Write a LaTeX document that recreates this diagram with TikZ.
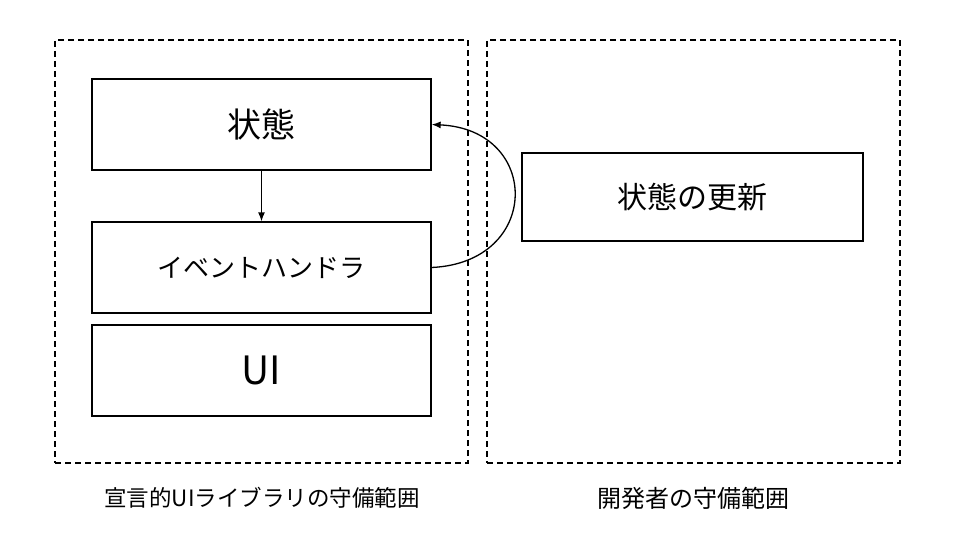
\documentclass[tikz,border=0pt]{standalone}
\usepackage{fontspec}
\setmainfont{Noto Sans CJK JP}
\usetikzlibrary{arrows.meta}

\tikzset{
	box/.style={draw, line width=1.3pt, minimum width=339pt, minimum height=91pt, inner sep=0pt},
	area/.style={draw, line width=1.2pt, dash pattern=on 6pt off 4pt, minimum width=413pt, minimum height=423pt, inner sep=0pt},
	flow/.style={line width=1.3pt, -{Latex[length=9pt,width=7pt]}}
}

\begin{document}
\begin{tikzpicture}[x=1pt, y=-1pt]
		\useasboundingbox (0,0) rectangle (960,540);
		\node[area](lib) at (261.5,251.5){};
		\node[area](dev) at (693.5,251.5){};
		\node[box, font=\fontsize{34}{38}\selectfont](state) at (261.5,124.5){状態};
		\node[box, font=\fontsize{26}{30}\selectfont](handler) at (261.5,267.5){イベントハンドラ};
		\node[box, font=\fontsize{39}{43}\selectfont](ui) at (261.5,370.5){UI};
		\node[box, minimum width=341pt, minimum height=88pt, font=\fontsize{30}{34}\selectfont](update) at (692.5,197){状態の更新};
		\node[font=\fontsize{22.5}{26}\selectfont](liblabel) at (262,498){宣言的UIライブラリの守備範囲};
		\node[font=\fontsize{24}{28}\selectfont](devlabel) at (693,498){開発者の守備範囲};
		\draw[flow] (state.south) -- (handler.north);
		\draw[flow] (handler.east) .. controls +(110,-5) and +(110,5) .. (state.east);
	\end{tikzpicture}
\end{document}
